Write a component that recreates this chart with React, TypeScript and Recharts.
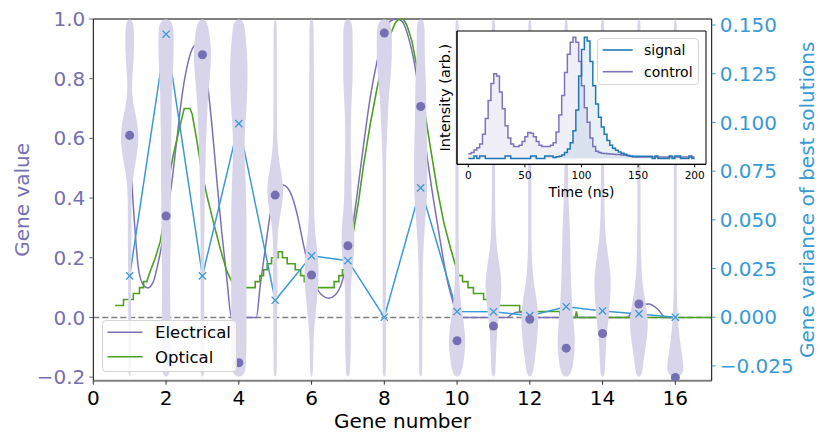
import React from "react";
import {
  Area,
  CartesianGrid,
  ComposedChart,
  Line,
  ReferenceArea,
  ReferenceLine,
  Scatter,
  XAxis,
  YAxis,
} from "recharts";

const FONT = "'DejaVu Sans', sans-serif";
const PURPLE = "#7570b3";
const LINE_PURPLE = "#7d6fb7";
const VIOLIN = "#d8d5ea";
const GREEN = "#4ca123";
const BLUE = "#3a9ad3";
const SIGNAL = "#1f77b4";
const CONTROL = "#8172b9";

const genes = [1, 2, 3, 4, 5, 6, 7, 8, 9, 10, 11, 12, 13, 14, 15, 16];
const geneValues = [
  0.61, 0.34, 0.88, -0.152, 0.41, 0.142, 0.24, 0.953, 0.707, -0.078, -0.029, -0.006, -0.103, -0.054,
  0.045, -0.201,
];
const geneVariance = [
  0.0212, 0.1453, 0.0212, 0.0994, 0.0087, 0.0315, 0.029, 0.0, 0.0664, 0.0029, 0.0028, 0.0008, 0.0054,
  0.0032, 0.0017, 0.0,
];

// violin half widths (gene-number units) at these gene-value levels
const violinLevels = [
  -0.2, -0.15, -0.1, -0.05, 0, 0.05, 0.1, 0.15, 0.2, 0.25, 0.3, 0.35, 0.4, 0.45, 0.5, 0.55, 0.6, 0.65,
  0.7, 0.75, 0.8, 0.85, 0.9, 0.95, 1.0,
];
const violinWidths = [
  [0.03, 0.04, 0.04, 0.04, 0.04, 0.04, 0.04, 0.045, 0.045, 0.05, 0.05, 0.05, 0.055, 0.07, 0.13, 0.21, 0.25, 0.22, 0.12, 0.06, 0.07, 0.1, 0.12, 0.12, 0.1],
  [0.09, 0.12, 0.13, 0.13, 0.12, 0.115, 0.11, 0.11, 0.12, 0.13, 0.13, 0.13, 0.13, 0.14, 0.14, 0.14, 0.14, 0.15, 0.155, 0.16, 0.18, 0.2, 0.21, 0.21, 0.18],
  [0.05, 0.05, 0.05, 0.05, 0.05, 0.05, 0.05, 0.05, 0.05, 0.05, 0.055, 0.06, 0.065, 0.07, 0.08, 0.09, 0.1, 0.12, 0.14, 0.16, 0.2, 0.23, 0.24, 0.2, 0.12],
  [0.17, 0.2, 0.21, 0.21, 0.21, 0.21, 0.21, 0.21, 0.21, 0.21, 0.21, 0.21, 0.2, 0.19, 0.17, 0.16, 0.16, 0.18, 0.21, 0.23, 0.24, 0.24, 0.22, 0.18, 0.14],
  [0.04, 0.045, 0.045, 0.05, 0.05, 0.06, 0.065, 0.06, 0.055, 0.06, 0.08, 0.15, 0.22, 0.22, 0.14, 0.08, 0.055, 0.05, 0.045, 0.045, 0.045, 0.045, 0.045, 0.045, 0.04],
  [0.04, 0.045, 0.05, 0.065, 0.1, 0.14, 0.18, 0.2, 0.18, 0.13, 0.09, 0.07, 0.065, 0.065, 0.065, 0.065, 0.065, 0.065, 0.065, 0.065, 0.065, 0.06, 0.06, 0.06, 0.055],
  [0.05, 0.065, 0.08, 0.08, 0.075, 0.075, 0.08, 0.11, 0.16, 0.18, 0.17, 0.13, 0.1, 0.1, 0.09, 0.08, 0.075, 0.08, 0.09, 0.11, 0.13, 0.13, 0.13, 0.13, 0.11],
  [0.045, 0.045, 0.045, 0.045, 0.045, 0.045, 0.045, 0.045, 0.045, 0.045, 0.045, 0.045, 0.045, 0.045, 0.045, 0.055, 0.07, 0.09, 0.11, 0.13, 0.17, 0.2, 0.21, 0.21, 0.17],
  [0.04, 0.045, 0.045, 0.045, 0.05, 0.05, 0.05, 0.055, 0.065, 0.085, 0.11, 0.14, 0.17, 0.18, 0.185, 0.18, 0.17, 0.16, 0.155, 0.15, 0.14, 0.12, 0.11, 0.11, 0.1],
  [0.1, 0.18, 0.23, 0.22, 0.16, 0.1, 0.07, 0.055, 0.05, 0.045, 0.045, 0.045, 0.045, 0.045, 0.045, 0.045, 0.045, 0.045, 0.045, 0.045, 0.045, 0.045, 0.045, 0.045, 0.045],
  [0.05, 0.065, 0.08, 0.1, 0.14, 0.19, 0.23, 0.2, 0.13, 0.08, 0.06, 0.05, 0.045, 0.045, 0.045, 0.045, 0.045, 0.045, 0.045, 0.045, 0.045, 0.045, 0.045, 0.045, 0.045],
  [0.07, 0.13, 0.18, 0.22, 0.24, 0.2, 0.13, 0.08, 0.055, 0.045, 0.045, 0.045, 0.045, 0.045, 0.045, 0.045, 0.045, 0.045, 0.045, 0.045, 0.045, 0.045, 0.045, 0.045, 0.045],
  [0.12, 0.2, 0.24, 0.23, 0.19, 0.16, 0.14, 0.125, 0.12, 0.11, 0.1, 0.08, 0.065, 0.055, 0.05, 0.045, 0.045, 0.045, 0.045, 0.045, 0.045, 0.045, 0.045, 0.045, 0.045],
  [0.06, 0.075, 0.09, 0.12, 0.17, 0.2, 0.23, 0.22, 0.16, 0.1, 0.07, 0.055, 0.05, 0.045, 0.045, 0.045, 0.045, 0.045, 0.045, 0.045, 0.045, 0.045, 0.045, 0.045, 0.045],
  [0.08, 0.12, 0.18, 0.24, 0.25, 0.18, 0.11, 0.075, 0.06, 0.05, 0.045, 0.045, 0.045, 0.045, 0.045, 0.045, 0.045, 0.045, 0.045, 0.045, 0.045, 0.045, 0.045, 0.045, 0.045],
  [0.24, 0.22, 0.15, 0.1, 0.07, 0.05, 0.04, 0.04, 0.04, 0.04, 0.04, 0.04, 0.04, 0.04, 0.04, 0.04, 0.04, 0.04, 0.04, 0.04, 0.04, 0.04, 0.04, 0.04, 0.04],
];

// [gene number, gene value]
const electricalTrace: [number, number][] = [
  [1.0, 0.61], [1.06, 0.455], [1.15, 0.287], [1.24, 0.164], [1.38, 0.108], [1.5, 0.099], [1.65, 0.12],
  [1.79, 0.187], [1.93, 0.276], [2.02, 0.34], [2.16, 0.455], [2.29, 0.589], [2.43, 0.735], [2.57, 0.836],
  [2.71, 0.897], [2.83, 0.914], [2.94, 0.897], [3.01, 0.88], [3.12, 0.802], [3.26, 0.645], [3.4, 0.455],
  [3.53, 0.287], [3.67, 0.131], [3.8, 0], [4.48, 0], [4.59, 0.108], [4.73, 0.232], [4.86, 0.343],
  [5.0, 0.41], [5.21, 0.444], [5.41, 0.421], [5.6, 0.348], [5.78, 0.243], [5.96, 0.153], [6.1, 0.108],
  [6.28, 0.075], [6.47, 0.064], [6.65, 0.075], [6.84, 0.12], [6.97, 0.187], [7.11, 0.287], [7.25, 0.41],
  [7.43, 0.578], [7.61, 0.735], [7.8, 0.858], [7.98, 0.947], [8.16, 0.992], [8.33, 1.0], [8.49, 0.992],
  [8.67, 0.936], [8.85, 0.836], [8.99, 0.718], [9.17, 0.545], [9.36, 0.388], [9.54, 0.254], [9.72, 0.131],
  [9.91, 0.041], [10.0, 0], [11.38, 0], [11.51, 0.011], [11.7, 0.018], [11.88, 0.011], [12.02, 0],
  [14.68, 0], [14.86, 0.03], [15.04, 0.041], [15.27, 0.045], [15.5, 0.03], [15.74, 0], [16.0, 0],
];

const opticalTrace: [number, number][] = [
  [0.6, 0.04], [0.83, 0.04], [0.83, 0.06], [1.1, 0.06], [1.1, 0.08], [1.27, 0.08], [1.27, 0.1],
  [1.38, 0.1], [1.38, 0.12], [1.47, 0.12], [1.56, 0.153], [1.7, 0.198], [1.84, 0.254], [1.97, 0.343],
  [2.06, 0.455], [2.2, 0.545], [2.39, 0.645], [2.5, 0.7], [2.66, 0.7], [2.72, 0.68], [2.85, 0.59],
  [2.98, 0.49], [3.12, 0.41], [3.3, 0.32], [3.49, 0.23], [3.67, 0.155], [3.81, 0.12], [3.9, 0.1],
  [4.45, 0.1], [4.45, 0.12], [4.58, 0.12], [4.58, 0.14], [4.68, 0.14], [4.68, 0.16], [4.78, 0.16],
  [4.78, 0.18], [4.9, 0.18], [4.9, 0.2], [5.08, 0.2], [5.08, 0.22], [5.2, 0.22], [5.2, 0.2],
  [5.33, 0.2], [5.33, 0.18], [5.55, 0.18], [5.55, 0.16], [5.7, 0.16], [5.7, 0.14], [5.8, 0.14],
  [5.8, 0.12], [5.9, 0.12], [5.9, 0.1], [6.62, 0.1], [6.62, 0.12], [6.75, 0.12], [6.75, 0.14],
  [6.85, 0.14], [6.85, 0.16], [6.95, 0.16], [7.02, 0.198], [7.15, 0.287], [7.29, 0.388], [7.43, 0.511],
  [7.61, 0.645], [7.8, 0.768], [7.98, 0.869], [8.16, 0.947], [8.3, 0.987], [8.4, 1.0], [8.52, 1.0],
  [8.62, 0.98], [8.76, 0.925], [8.94, 0.813], [9.08, 0.712], [9.27, 0.567], [9.45, 0.433], [9.63, 0.321],
  [9.82, 0.232], [9.92, 0.19], [10.0, 0.16], [10.05, 0.14], [10.15, 0.14], [10.15, 0.12], [10.3, 0.12],
  [10.3, 0.1], [10.45, 0.1], [10.45, 0.08], [10.73, 0.08], [10.73, 0.06], [11.05, 0.06], [11.05, 0.04],
  [11.72, 0.04], [11.72, 0.02], [12.82, 0.02], [12.84, 0], [12.87, 0.02], [12.9, 0], [12.94, 0.02],
  [12.97, 0], [13.02, 0.02], [13.06, 0], [13.25, 0], [13.28, 0.02], [13.31, 0], [17.0, 0],
];

const xTicks = [0, 2, 4, 6, 8, 10, 12, 14, 16];
const leftTicks = [-0.2, 0, 0.2, 0.4, 0.6, 0.8, 1.0];
const rightTicks = [-0.025, 0, 0.025, 0.05, 0.075, 0.1, 0.125, 0.15];

// inset: time (ns) and histogram intensities
const insetTime = [
  0, 2.5, 5, 7.5, 10, 12.5, 15, 17.5, 20, 22.5, 25, 27.5, 30, 32.5, 35, 37.5, 40, 42.5, 45, 47.5, 50,
  52.5, 55, 57.5, 60, 62.5, 65, 67.5, 70, 72.5, 75, 77.5, 80, 82.5, 85, 87.5, 90, 92.5, 95, 97.5, 100,
  102.5, 105, 107.5, 110, 112.5, 115, 117.5, 120, 122.5, 125, 127.5, 130, 132.5, 135, 137.5, 140, 142.5,
  145, 147.5, 150, 152.5, 155, 157.5, 160, 162.5, 165, 167.5, 170, 172.5, 175, 177.5, 180, 182.5, 185,
  187.5, 190, 192.5, 195, 197.5, 200,
];
const controlIntensity = [
  0.04, 0.05, 0.07, 0.09, 0.12, 0.2, 0.33, 0.48, 0.62, 0.7, 0.68, 0.55, 0.41, 0.27, 0.17, 0.12, 0.1,
  0.1, 0.11, 0.14, 0.18, 0.215, 0.21, 0.18, 0.14, 0.11, 0.1, 0.1, 0.1, 0.11, 0.13, 0.22, 0.36, 0.52,
  0.71, 0.86, 0.96, 1.0, 0.96, 0.8, 0.6, 0.42, 0.3, 0.17, 0.1, 0.06, 0.05, 0.045, 0.042, 0.04, 0.038,
  0.036, 0.034, 0.033, 0.03, 0.028, 0.025, 0.022, 0.013, 0.013, 0.013, 0.013, 0.013, 0.013, 0.013,
  0.013, 0.013, 0.013, 0.013, 0.013, 0.013, 0.013, 0.013, 0.013, 0.013, 0.013, 0.013, 0.013, 0.013,
  0.013, 0.013,
];
const signalIntensity = [
  0, 0, 0.022, 0, 0.022, 0.022, 0, 0, 0, 0, 0, 0, 0, 0.022, 0.022, 0, 0, 0, 0, 0, 0, 0, 0.022, 0.022,
  0, 0, 0, 0.022, 0.022, 0.022, 0.01, 0.015, 0.02, 0.03, 0.05, 0.08, 0.13, 0.23, 0.4, 0.68, 0.9, 1.0,
  0.97, 0.8, 0.6, 0.45, 0.34, 0.26, 0.2, 0.15, 0.11, 0.085, 0.068, 0.055, 0.045, 0.035, 0.025, 0.02,
  0.02, 0.02, 0.02, 0.02, 0.02, 0.02, 0.02, 0, 0.022, 0, 0, 0, 0, 0.022, 0, 0.022, 0.022, 0, 0, 0,
  0.022, 0, 0,
];
const insetTicks = [0, 50, 100, 150, 200];

const violinShapes = genes.map((g, i) => {
  const w = violinWidths[i];
  const right = violinLevels.map((y, k) => ({ x: g + w[k], y }));
  const left = violinLevels.map((y, k) => ({ x: g - w[k], y })).reverse();
  return [...right, ...left];
});
const geneDots = genes.map((g, i) => ({ x: g, y: geneValues[i] }));
const varianceData = genes.map((g, i) => ({ x: g, y: geneVariance[i] }));
const electricalData = electricalTrace.map(([x, y]) => ({ x, y }));
const opticalData = opticalTrace.map(([x, y]) => ({ x, y }));
const insetData = insetTime.map((t, i) => ({
  t,
  control: controlIntensity[i],
  signal: signalIntensity[i],
}));

const fmt = (digits: number) => (v: number) =>
  (v < -1e-9 ? "\u2212" : "") + Math.abs(v).toFixed(digits);

function XMark(props: any) {
  const { cx, cy, index } = props;
  if (cx == null || cy == null) return <g key={`xm-${index}`} />;
  const s = 3.6;
  return (
    <path
      key={`xm-${index}`}
      d={`M${cx - s},${cy - s}L${cx + s},${cy + s}M${cx - s},${cy + s}L${cx + s},${cy - s}`}
      stroke={BLUE}
      strokeWidth={1.3}
      fill="none"
    />
  );
}

interface LegendItem {
  label: string;
  color: string;
}

function LegendBox(props: {
  left: number;
  top: number;
  width: number;
  height: number;
  lineLeft: number;
  lineWidth: number;
  textLeft: number;
  rows: number[];
  fontSize: number;
  items: LegendItem[];
}) {
  const { left, top, width, height, lineLeft, lineWidth, textLeft, rows, fontSize, items } = props;
  return (
    <svg
      width={width}
      height={height}
      style={{ position: "absolute", left, top, overflow: "visible" }}
    >
      <rect
        x={0.5}
        y={0.5}
        width={width - 1}
        height={height - 1}
        rx={3.5}
        fill="#fff"
        fillOpacity={0.82}
        stroke="#d6d6d6"
        strokeWidth={1}
      />
      {items.map((it, i) => (
        <g key={it.label}>
          <line
            x1={lineLeft}
            x2={lineLeft + lineWidth}
            y1={rows[i]}
            y2={rows[i]}
            stroke={it.color}
            strokeWidth={1.6}
          />
          <text x={textLeft} y={rows[i]} dy="0.36em" fontSize={fontSize} fill="#000">
            {it.label}
          </text>
        </g>
      ))}
    </svg>
  );
}

export default function App() {
  return (
    <div
      style={{
        position: "absolute",
        left: 0,
        top: 0,
        width: 831,
        height: 445,
        fontFamily: FONT,
        background: "#fff",
      }}
    >
      <ComposedChart width={831} height={445} margin={{ top: 19, right: 0, bottom: 0, left: 0 }}>
        <XAxis
          type="number"
          dataKey="x"
          domain={[0, 17]}
          ticks={xTicks}
          allowDataOverflow
          height={64.3}
          axisLine={{ stroke: "#808080", strokeWidth: 2 }}
          tickLine={{ stroke: "#333" }}
          tick={{ fill: "#000", fontSize: 20 }}
          tickSize={4}
          tickMargin={6}
          label={{ value: "Gene number", position: "insideBottom", offset: 17, fill: "#000", fontSize: 20 }}
        />
        <YAxis
          yAxisId="left"
          type="number"
          dataKey="y"
          domain={[-0.212, 1.0]}
          ticks={leftTicks}
          allowDataOverflow
          width={93.3}
          tickFormatter={fmt(1)}
          axisLine={{ stroke: "#000" }}
          tickLine={{ stroke: "#666" }}
          tick={{ fill: PURPLE, fontSize: 20 }}
          tickSize={4}
          tickMargin={4}
          label={{
            value: "Gene value",
            angle: -90,
            position: "insideLeft",
            offset: 22,
            fill: PURPLE,
            fontSize: 20,
            style: { textAnchor: "middle" },
          }}
        />
        <YAxis
          yAxisId="right"
          orientation="right"
          type="number"
          dataKey="y"
          domain={[-0.0326, 0.1531]}
          ticks={rightTicks}
          allowDataOverflow
          width={119.3}
          tickFormatter={fmt(3)}
          axisLine={{ stroke: "#000" }}
          tickLine={{ stroke: BLUE }}
          tick={{ fill: BLUE, fontSize: 20 }}
          tickSize={4}
          tickMargin={4}
          label={{
            value: "Gene variance of best solutions",
            angle: -90,
            position: "insideRight",
            offset: 24,
            fill: BLUE,
            fontSize: 20,
            style: { textAnchor: "middle" },
          }}
        />
        {violinShapes.map((pts, i) => (
          <Scatter
            key={`violin-${i}`}
            yAxisId="left"
            data={pts}
            fill={VIOLIN}
            line={{ fill: VIOLIN, stroke: "none" }}
            lineType="joint"
            lineJointType="basisClosed"
            shape={() => <g />}
            isAnimationActive={false}
          />
        ))}
        <ReferenceLine yAxisId="left" y={0} stroke="#808080" strokeWidth={1.5} strokeDasharray="6 3" />
        <ReferenceLine yAxisId="left" y={1.0} stroke="#000" strokeWidth={1} />
        <Line
          yAxisId="left"
          data={electricalData}
          dataKey="y"
          type="monotone"
          stroke={LINE_PURPLE}
          strokeWidth={1.5}
          dot={false}
          isAnimationActive={false}
        />
        <Line
          yAxisId="left"
          data={opticalData}
          dataKey="y"
          type="linear"
          stroke={GREEN}
          strokeWidth={1.6}
          dot={false}
          isAnimationActive={false}
        />
        <Line
          yAxisId="right"
          data={varianceData}
          dataKey="y"
          type="linear"
          stroke={BLUE}
          strokeWidth={1.5}
          dot={(p: any) => <XMark key={`xm-${p.index}`} {...p} />}
          isAnimationActive={false}
        />
        <Scatter yAxisId="left" data={geneDots} fill={PURPLE} isAnimationActive={false} />
      </ComposedChart>

      <LegendBox
        left={101.5}
        top={320}
        width={135}
        height={52}
        lineLeft={5.5}
        lineWidth={35}
        textLeft={53}
        rows={[12.3, 36.7]}
        fontSize={16.5}
        items={[
          { label: "Electrical", color: LINE_PURPLE },
          { label: "Optical", color: GREEN },
        ]}
      />

      <div style={{ position: "absolute", left: 420, top: 20 }}>
        <ComposedChart
          width={300}
          height={185}
          data={insetData}
          margin={{ top: 11, right: 14, bottom: 0, left: 0 }}
        >
          <CartesianGrid horizontal={false} vertical={false} fill="#fff" fillOpacity={1} />
          <XAxis
            type="number"
            dataKey="t"
            domain={[-10, 210]}
            ticks={insetTicks}
            allowDataOverflow
            height={40.7}
            axisLine={{ stroke: "#000" }}
            tickLine={{ stroke: "#000" }}
            tick={{ fill: "#000", fontSize: 10.5 }}
            tickSize={3}
            tickMargin={4.4}
            label={{ value: "Time (ns)", position: "insideBottom", offset: 8.3, fill: "#000", fontSize: 14 }}
          />
          <YAxis
            type="number"
            domain={[-0.047, 1.052]}
            allowDataOverflow
            width={37}
            tick={false}
            tickLine={false}
            axisLine={{ stroke: "#000" }}
            label={{
              value: "Intensity (arb.)",
              angle: -90,
              position: "insideLeft",
              offset: 25,
              fill: "#000",
              fontSize: 14.5,
              style: { textAnchor: "middle" },
            }}
          />
          <Area
            dataKey="control"
            type="stepAfter"
            stroke={CONTROL}
            strokeWidth={1.5}
            fill={CONTROL}
            fillOpacity={0.12}
            isAnimationActive={false}
          />
          <Area
            dataKey="signal"
            type="stepAfter"
            stroke={SIGNAL}
            strokeWidth={1.5}
            fill={SIGNAL}
            fillOpacity={0.1}
            isAnimationActive={false}
          />
          <ReferenceArea
            x1={-10}
            x2={210}
            y1={-0.047}
            y2={1.052}
            fill="none"
            fillOpacity={0}
            stroke="#000"
            strokeWidth={1}
            ifOverflow="visible"
          />
        </ComposedChart>
      </div>

      <LegendBox
        left={597}
        top={38}
        width={102}
        height={47}
        lineLeft={5.7}
        lineWidth={30}
        textLeft={47}
        rows={[12, 33.7]}
        fontSize={14}
        items={[
          { label: "signal", color: SIGNAL },
          { label: "control", color: CONTROL },
        ]}
      />
    </div>
  );
}
